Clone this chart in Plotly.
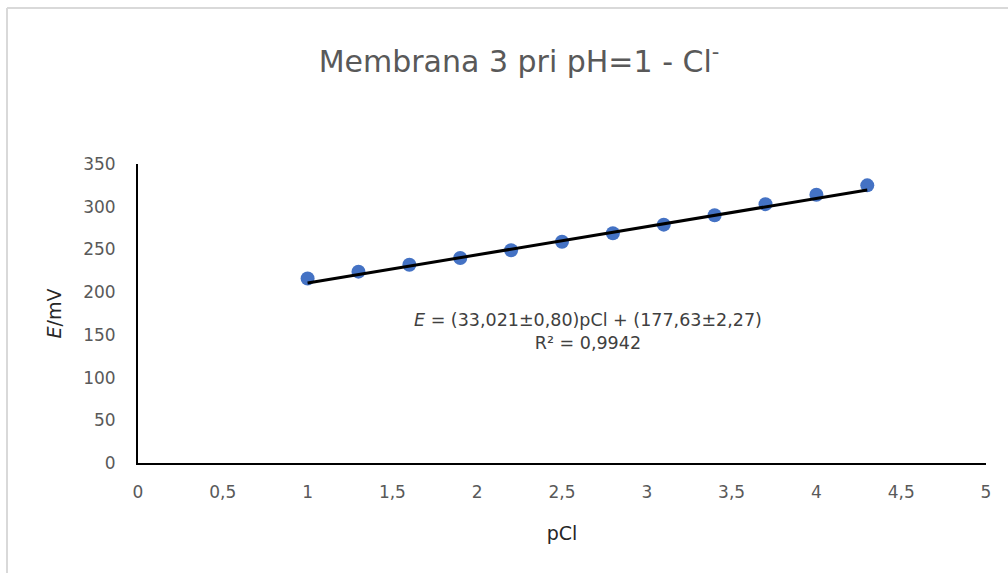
import plotly.graph_objects as go

# Data
pcl = [1.0, 1.3, 1.6, 1.9, 2.2, 2.5, 2.8, 3.1, 3.4, 3.7, 4.0, 4.3]
e_mv = [216, 224, 232, 240, 249, 259, 269, 279, 290, 303, 314, 325]

slope = 33.021
intercept = 177.63
fit_x = [pcl[0], pcl[-1]]
fit_y = [slope * x + intercept for x in fit_x]

title_text = "Membrana 3 pri pH=1 - Cl<sup>-</sup>"
eq_text = "<i>E</i> = (33,021±0,80)pCl + (177,63±2,27)<br>R² = 0,9942"

FONT = "'DejaVu Sans', sans-serif"
GRAY = "#595959"

fig = go.Figure()
fig.add_trace(go.Scatter(
    x=pcl, y=e_mv, mode="markers",
    marker=dict(color="#4472C4", size=14, line=dict(width=0)),
    showlegend=False, cliponaxis=False,
))
fig.add_trace(go.Scatter(
    x=fit_x, y=fit_y, mode="lines",
    line=dict(color="black", width=3),
    showlegend=False,
))

L, R, T, B = 138, 22, 164, 110
W, H = 1008, 573
pw, ph = W - L - R, H - T - B

def px(xp):
    return (xp - L) / pw

def py(yp):
    return (H - B - yp) / ph

fig.update_layout(
    width=W, height=H,
    margin=dict(l=L, r=R, t=T, b=B),
    paper_bgcolor="white", plot_bgcolor="white",
    separators=", ",
    font=dict(family=FONT, color=GRAY, size=17),
    title=dict(text=title_text, xref="container", x=519 / W, xanchor="center",
               yref="container", y=1 - 61 / H, yanchor="middle",
               font=dict(family=FONT, size=30, color=GRAY)),
    xaxis=dict(range=[0, 5], dtick=0.5, tick0=0, showgrid=False, zeroline=False,
               showline=True, linecolor="black", linewidth=2, ticks="",
               ticklabelstandoff=13,
               tickfont=dict(size=17, color=GRAY),
               title=dict(text="pCl", standoff=25,
                          font=dict(size=19, color="#262626"))),
    yaxis=dict(range=[0, 350], dtick=50, tick0=0, showgrid=False, zeroline=False,
               showline=True, linecolor="black", linewidth=2, ticks="",
               ticklabelstandoff=17,
               tickfont=dict(size=17, color=GRAY),
               title=dict(text="<i>E</i>/mV", standoff=16,
                          font=dict(size=19, color="#262626"))),
    annotations=[dict(
        text=eq_text, xref="paper", yref="paper",
        x=px(588), y=py(331), xanchor="center", yanchor="middle",
        showarrow=False, align="center",
        font=dict(family=FONT, size=17.5, color="#404040"),
    )],
    shapes=[
        dict(type="line", xref="paper", yref="paper",
             x0=px(7), x1=px(7), y0=py(575), y1=py(8),
             line=dict(color="#d9d9d9", width=2)),
        dict(type="line", xref="paper", yref="paper",
             x0=px(7), x1=px(1010), y0=py(8), y1=py(8),
             line=dict(color="#d9d9d9", width=2)),
    ],
)

fig.write_html("out.html", config={"displayModeBar": False},
               post_script="document.body.style.margin='0';document.body.style.overflow='hidden';")
